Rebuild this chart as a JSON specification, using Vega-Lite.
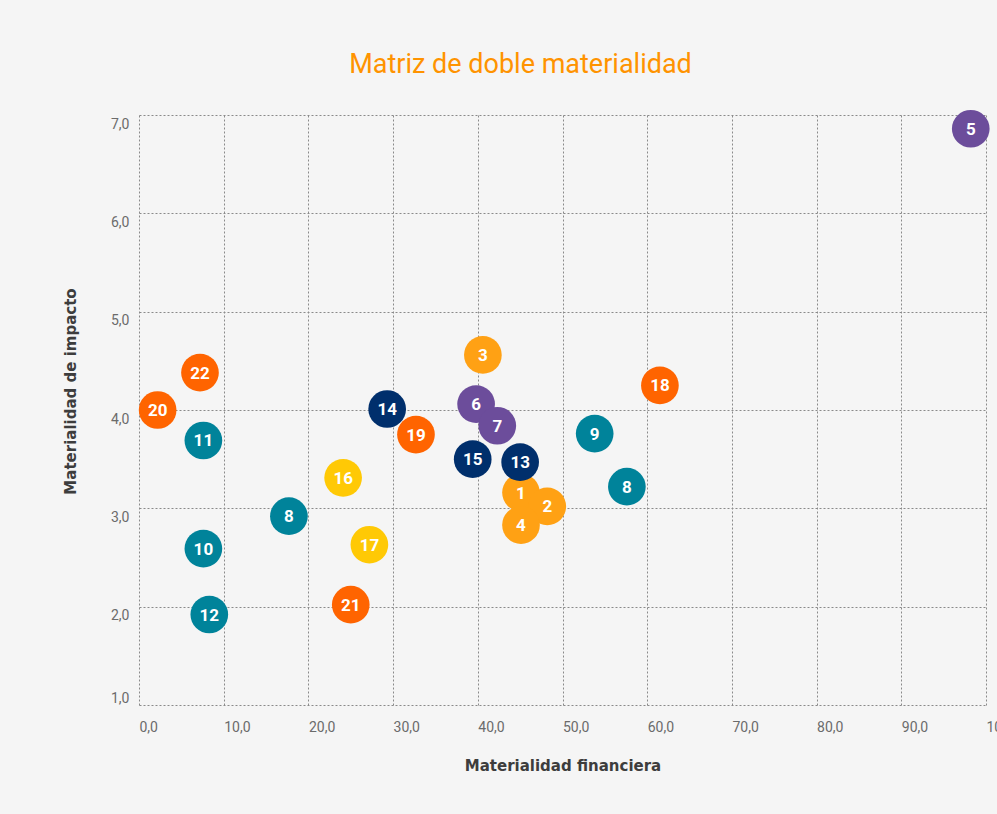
{
  "$schema": "https://vega.github.io/schema/vega-lite/v6.json",
  "width": 847,
  "height": 590,
  "autosize": {"type": "none"},
  "padding": {"left": 139, "top": 115, "right": 11, "bottom": 109},
  "background": "#f5f5f5",
  "title": {
    "text": "Matriz de doble materialidad",
    "fontSize": 27,
    "font": "Roboto",
    "fontWeight": "normal",
    "color": "#FF9300",
    "anchor": "middle",
    "frame": "group",
    "dx": -42,
    "offset": 31
  },
  "data": {
    "values": [
      {"id": 1, "label": "1", "x": 45.1, "y": 3.16, "group": "A"},
      {"id": 2, "label": "2", "x": 48.2, "y": 3.02, "group": "A"},
      {"id": 3, "label": "3", "x": 40.6, "y": 4.56, "group": "A"},
      {"id": 4, "label": "4", "x": 45.1, "y": 2.83, "group": "A"},
      {"id": 5, "label": "5", "x": 98.2, "y": 6.86, "group": "B"},
      {"id": 6, "label": "6", "x": 39.8, "y": 4.06, "group": "B"},
      {"id": 7, "label": "7", "x": 42.3, "y": 3.84, "group": "B"},
      {"id": 8, "label": "8", "x": 17.7, "y": 2.92, "group": "C"},
      {"id": 8.5, "label": "8", "x": 57.6, "y": 3.22, "group": "C"},
      {"id": 9, "label": "9", "x": 53.8, "y": 3.76, "group": "C"},
      {"id": 10, "label": "10", "x": 7.6, "y": 2.59, "group": "C"},
      {"id": 11, "label": "11", "x": 7.6, "y": 3.69, "group": "C"},
      {"id": 12, "label": "12", "x": 8.3, "y": 1.92, "group": "C"},
      {"id": 13, "label": "13", "x": 45.0, "y": 3.47, "group": "D"},
      {"id": 14, "label": "14", "x": 29.3, "y": 4.01, "group": "D"},
      {"id": 15, "label": "15", "x": 39.4, "y": 3.5, "group": "D"},
      {"id": 16, "label": "16", "x": 24.1, "y": 3.31, "group": "E"},
      {"id": 17, "label": "17", "x": 27.2, "y": 2.63, "group": "E"},
      {"id": 18, "label": "18", "x": 61.5, "y": 4.25, "group": "F"},
      {"id": 19, "label": "19", "x": 32.7, "y": 3.75, "group": "F"},
      {"id": 20, "label": "20", "x": 2.2, "y": 4.0, "group": "F"},
      {"id": 21, "label": "21", "x": 25.0, "y": 2.02, "group": "F"},
      {"id": 22, "label": "22", "x": 7.2, "y": 4.38, "group": "F"}
    ]
  },
  "encoding": {
    "x": {
      "field": "x",
      "type": "quantitative",
      "scale": {"domain": [0, 100], "nice": false, "zero": false},
      "axis": {
        "title": "Materialidad financiera",
        "values": [0, 10, 20, 30, 40, 50, 60, 70, 80, 90, 100],
        "labelExpr": "replace(format(datum.value, '.1f'), '.', ',')",
        "labelAlign": "left",
        "labelBaseline": "top",
        "labelPadding": 15,
        "labelFlush": false,
        "labelOverlap": false,
        "titleY": 65,
        "titleBaseline": "alphabetic"
      }
    },
    "y": {
      "field": "y",
      "type": "quantitative",
      "scale": {"domain": [1, 7], "nice": false, "zero": false},
      "axis": {
        "title": "Materialidad de impacto",
        "values": [1, 2, 3, 4, 5, 6, 7],
        "labelExpr": "replace(format(datum.value, '.1f'), '.', ',')",
        "labelPadding": 10,
        "labelFlush": false,
        "labelOverlap": false,
        "labelBaseline": {"condition": {"test": "datum.value == 1", "value": "bottom"}, "value": "top"},
        "labelOffset": {"condition": {"test": "datum.value == 1", "value": 0}, "value": 2},
        "titleX": -69,
        "titleY": 276,
        "titleAngle": -90,
        "titleBaseline": "middle",
        "titleAlign": "center"
      }
    }
  },
  "layer": [
    {
      "mark": {"type": "circle", "size": 1420, "opacity": 1},
      "encoding": {
        "order": {"field": "id", "type": "quantitative"},
        "color": {
          "field": "group",
          "type": "nominal",
          "legend": null,
          "scale": {
            "domain": ["A", "B", "C", "D", "E", "F"],
            "range": ["#FFA114", "#6C4D9B", "#00839A", "#002F6C", "#FFC905", "#FF6400"]
          }
        }
      }
    },
    {
      "mark": {"type": "text", "color": "white", "fontSize": 17, "fontWeight": "bold", "font": "Roboto", "baseline": "middle", "align": "center", "dy": 1},
      "encoding": {
        "order": {"field": "id", "type": "quantitative"},
        "text": {"field": "label"}
      }
    }
  ],
  "config": {
    "view": {"stroke": null},
    "axis": {
      "domain": false,
      "ticks": false,
      "grid": true,
      "gridColor": "#8a8a8a",
      "gridDash": [2, 2],
      "gridWidth": 1,
      "gridOpacity": 1,
      "labelFont": "Roboto",
      "labelFontSize": 14,
      "labelColor": "#6b6b6b",
      "titleFont": "DejaVu Sans",
      "titleFontSize": 15,
      "titleFontWeight": "bold",
      "titleColor": "#3d3d3d"
    }
  }
}
